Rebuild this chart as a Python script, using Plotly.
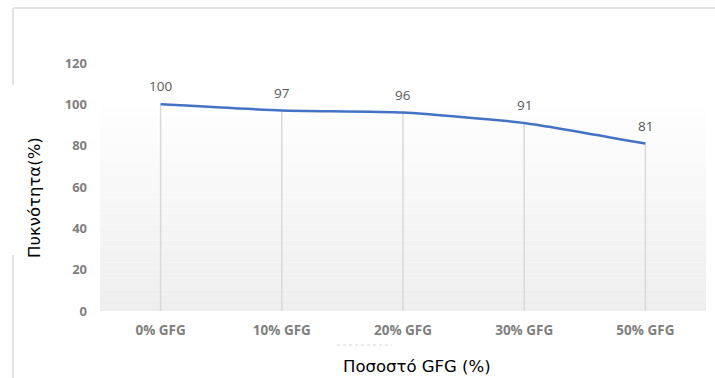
import plotly.graph_objects as go

# Density of mixes by GFG replacement level
categories = ["0% GFG", "10% GFG", "20% GFG", "30% GFG", "50% GFG"]
density = [100, 97, 96, 91, 81]
y_ticks = [0, 20, 40, 60, 80, 100, 120]

W, H = 715, 378
L, R, T, B = 100, 9, 63, 67
pw, ph = W - L - R, H - T - B


def px_x(p):
    return (p - L) / pw


def px_y(p):
    return (H - B - p) / ph


fig = go.Figure()

# drop lines from each point to the category axis
fig.add_trace(go.Scatter(
    x=categories, y=density, mode="markers",
    marker=dict(size=0.1, color="rgba(0,0,0,0)"),
    error_y=dict(type="data", symmetric=False,
                 array=[0] * len(density), arrayminus=density,
                 color="#d9d9d9", thickness=1.5, width=0),
    hoverinfo="skip", showlegend=False,
))

fig.add_trace(go.Scatter(
    x=categories, y=density, mode="lines",
    line=dict(color="#4472C4", width=2.5, shape="spline", smoothing=0.5),
    hoverinfo="skip", showlegend=False,
))

shapes = []
# vertical gradient in the plot area, white at top to light gray at bottom
top_px, bot_px = 95, 311
n = 40
for i in range(n):
    t = i / (n - 1)
    g = int(round(255 - t * (255 - 238)))
    y1 = top_px + (bot_px - top_px) * i / n
    y0 = top_px + (bot_px - top_px) * (i + 1) / n
    shapes.append(dict(
        type="rect", xref="paper", yref="paper",
        x0=0, x1=1, y0=px_y(y0), y1=px_y(y1),
        fillcolor=f"rgb({g},{g},{g})", line=dict(width=0), layer="below",
    ))

# outer frame fragments
frame = "#e3e3e3"
shapes.append(dict(type="line", xref="paper", yref="paper",
                   x0=px_x(13), x1=px_x(715), y0=px_y(8), y1=px_y(8),
                   line=dict(color=frame, width=2)))
shapes.append(dict(type="line", xref="paper", yref="paper",
                   x0=px_x(13), x1=px_x(13), y0=px_y(8), y1=px_y(85),
                   line=dict(color=frame, width=2)))
shapes.append(dict(type="line", xref="paper", yref="paper",
                   x0=px_x(13), x1=px_x(13), y0=px_y(255), y1=px_y(378),
                   line=dict(color=frame, width=2)))
# faint dashed remnant below the category labels
shapes.append(dict(type="line", xref="paper", yref="paper",
                   x0=px_x(337), x1=px_x(392), y0=px_y(345), y1=px_y(345),
                   line=dict(color="#d6d6d6", width=1, dash="dot")))

annotations = []
for c, v in zip(categories, density):
    annotations.append(dict(
        x=c, y=v, xref="x", yref="y", text=str(v), showarrow=False,
        yshift=18, font=dict(family="Open Sans", size=13.5, color="#595959"),
    ))

annotations.append(dict(
    text="Πυκνότητα(%)", xref="paper", yref="paper",
    x=px_x(34), y=px_y(198), textangle=-90, showarrow=False,
    xanchor="center", yanchor="middle",
    font=dict(family="DejaVu Sans", size=16.5, color="#000000"),
))
annotations.append(dict(
    text="Ποσοστό GFG (%)", xref="paper", yref="paper",
    x=px_x(417), y=px_y(366), showarrow=False,
    xanchor="center", yanchor="middle",
    font=dict(family="DejaVu Sans", size=16.5, color="#000000"),
))

fig.update_layout(
    width=W, height=H,
    margin=dict(l=L, r=R, t=T, b=B),
    paper_bgcolor="white", plot_bgcolor="white",
    shapes=shapes, annotations=annotations,
    showlegend=False,
)

fig.update_xaxes(
    type="category", range=[-0.5, 4.5],
    showgrid=False, showline=False, zeroline=False, ticks="",
    ticklabelstandoff=9,
    tickfont=dict(family="Open Sans", size=13.5, color="#7f7f7f", weight="bold"),
)
fig.update_yaxes(
    range=[0, 120], tickvals=y_ticks,
    showgrid=False, showline=False, zeroline=False, ticks="",
    ticklabelstandoff=12,
    tickfont=dict(family="Open Sans", size=13, color="#7f7f7f", weight="bold"),
)

fig.write_html("out.html")
